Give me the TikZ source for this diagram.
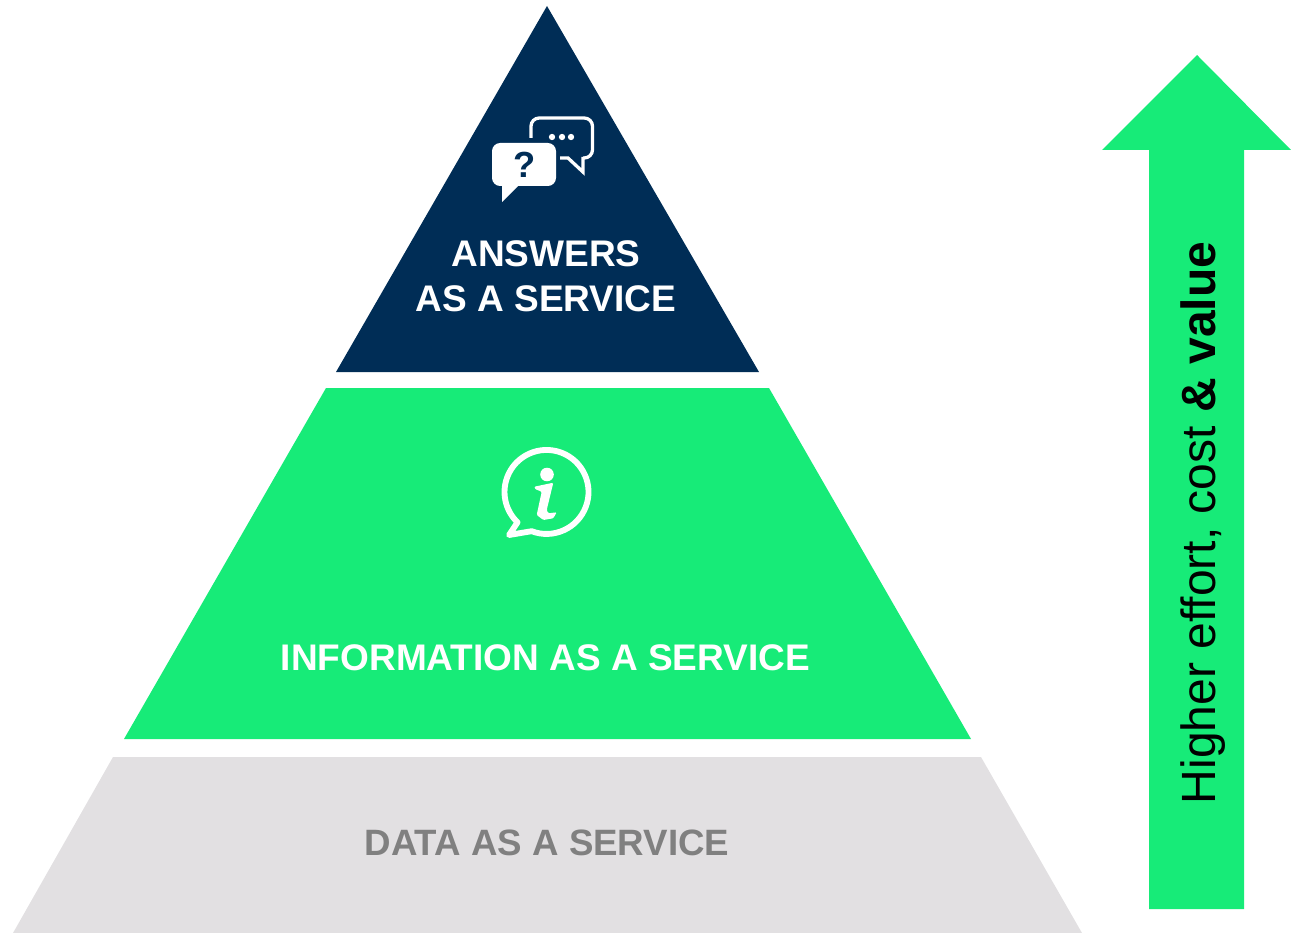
\documentclass[tikz,border=0pt]{standalone}
\usepackage{fontspec}
\setmainfont{Liberation Sans}
\definecolor{pyramidnavy}{RGB}{0,45,86}
\definecolor{pyramidgreen}{RGB}{23,235,120}
\definecolor{pyramidgrey}{RGB}{226,224,226}
\definecolor{labelgrey}{RGB}{128,128,128}
\tikzset{
    layerlabel/.style={anchor=base, inner sep=0pt, font=\fontsize{31.6pt}{36pt}\selectfont\bfseries},
}
\begin{document}
\begin{tikzpicture}[x=0.03cm, y=-0.03cm]
    \useasboundingbox (0,0) rectangle (1291,933);
    % pyramid layers
    \fill[pyramidnavy] (547,6) -- (759,372) -- (336,372) -- cycle;
    \fill[pyramidgreen] (326,388) -- (769,388) -- (971,739) -- (124,739) -- cycle;
    \fill[pyramidgrey] (113,757) -- (981,757) -- (1082,933) -- (13,933) -- cycle;

    % labels
    \node[layerlabel, white] (answers) at (546,267) {ANSWERS};
    \node[layerlabel, white] (answersservice) at (546,311) {AS A SERVICE};
    \node[layerlabel, white] (information) at (545.5,670.5) {INFORMATION AS A SERVICE};
    \node[layerlabel, labelgrey, font=\fontsize{31.3pt}{36pt}\selectfont\bfseries] (data) at (547,855.5) {DATA AS A SERVICE};

    % chat icon
    \fill[white, rounded corners=7pt] (492,143) -- (556,143) -- (556,186) -- (492,186) -- cycle;
    \fill[white] (502,184) -- (518,186) -- (502,202) -- cycle;
    \node[anchor=base, inner sep=0pt, pyramidnavy, font=\fontsize{31pt}{36pt}\selectfont\bfseries] (question) at (524.5,177.5) {?};
    \draw[white, line width=2.8pt, rounded corners=7pt] (531,138) -- (531,118) -- (592.5,118) -- (592.5,158) -- (583,158);
    \draw[white, line width=2.8pt] (583,157) -- (583,172) -- (568,158) -- (560,158);
    \foreach \x in {552,562,571}
        \fill[white] (\x,137) circle (2.7pt);

    % info icon
    \draw[white, line width=5pt, line join=round] (531.6,531.2) arc[start angle=110.8, end angle=-226.4, radius=42] -- (509,535) -- cycle;
    \fill[white] (547,474.5) circle (5.8pt);
    \fill[white, rounded corners=1pt] (534.3,486.7) -- (553.3,482.7) -- (546.7,510) -- (548.3,513.3) -- (556.7,512.3) -- (553.3,518.3) -- (543.3,520) -- (536.7,515) -- (541.7,491.7) -- (535,489) -- cycle;

    % side arrow
    \fill[pyramidgreen] (1197,55) -- (1291,150) -- (1244,150) -- (1244,909) -- (1149,909) -- (1149,150) -- (1102,150) -- cycle;
    \node[rotate=90, anchor=base, inner sep=0pt, black, font=\fontsize{41pt}{48pt}\selectfont] (effort) at (1215,523) {Higher effort, cost \textbf{\& value}};
\end{tikzpicture}
\end{document}
